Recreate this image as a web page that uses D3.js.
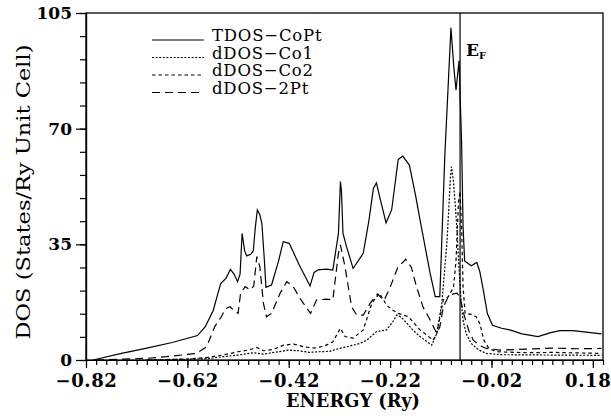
<!DOCTYPE html>
<html lang="en">
  <head>
    <meta charset="utf-8">
    <title>DOS CoPt - D3</title>
    <style>
      body { margin: 0; background: #fff; }
      text { font-family: "DejaVu Serif", serif; fill: #000; }
    </style>
  </head>
  <body>
    <div id="dataviz_area"></div>
    <script src="https://d3js.org/d3.v7.min.js"></script>
    <script>
      // values (energy in Ry, DOS in states/Ry unit cell)
      var tdosE = [-0.806, -0.75, -0.70, -0.65, -0.60, -0.585, -0.569, -0.56, -0.554, -0.544, -0.535, -0.528, -0.521, -0.516, -0.512, -0.507, -0.503, -0.495, -0.490, -0.486, -0.482, -0.477, -0.473, -0.468, -0.465, -0.454, -0.44, -0.431, -0.419, -0.40, -0.378, -0.370, -0.362, -0.345, -0.333, -0.322, -0.318, -0.316, -0.313, -0.306, -0.293, -0.273, -0.262, -0.253, -0.247, -0.240, -0.228, -0.217, -0.204, -0.195, -0.182, -0.170, -0.161, -0.141, -0.131, -0.122, -0.112, -0.100, -0.094, -0.090, -0.084, -0.079, -0.076, -0.073, -0.060, -0.049, -0.043, -0.036, -0.028, -0.018, 0.0, 0.016, 0.040, 0.072, 0.095, 0.115, 0.141, 0.197]
      var tdosV = [0, 2.0, 3.6, 5.3, 7.4, 10, 15, 20, 23.2, 24.7, 27.4, 26, 23.7, 26, 38.3, 33, 31.5, 32, 33, 40, 45.4, 44, 41.3, 30, 22, 22.7, 30, 35.8, 35.3, 29, 22.4, 26.5, 27.3, 27.5, 27.2, 38.3, 54, 51, 38.3, 34.3, 27.7, 32.3, 42, 51.9, 53.6, 49, 41.5, 45.4, 60.7, 61.7, 59.0, 50, 42.4, 26.2, 19.2, 19.2, 62, 100.5, 88, 81.7, 90.5, 66, 40, 30, 28.5, 29.5, 26.7, 21, 14, 10.5, 9.6, 9.1, 7.9, 7.1, 8.2, 8.9, 8.9, 7.9]

      var co1E = [-0.70, -0.60, -0.57, -0.55, -0.52, -0.49, -0.47, -0.44, -0.42, -0.40, -0.38, -0.36, -0.34, -0.32, -0.30, -0.28, -0.266, -0.247, -0.227, -0.215, -0.207, -0.198, -0.188, -0.175, -0.161, -0.138, -0.128, -0.118, -0.108, -0.101, -0.099, -0.095, -0.092, -0.088, -0.085, -0.080, -0.076, -0.070, -0.06, -0.045, -0.03, 0.0, 0.10, 0.197]
      var co1V = [0, 0.3, 0.6, 1.0, 1.5, 2.2, 1.8, 2.5, 3.0, 2.8, 2.3, 2.5, 2.6, 3.5, 4.2, 5, 6.0, 8.6, 9.1, 11.5, 13.6, 13, 11.3, 9, 7.1, 4.5, 8, 17.2, 35.3, 55, 58.5, 54, 48, 39.3, 30, 18, 12, 8, 5, 3, 2, 1.6, 1.5, 1.4]

      var co2E = [-0.70, -0.62, -0.58, -0.55, -0.52, -0.50, -0.483, -0.47, -0.45, -0.43, -0.41, -0.39, -0.37, -0.35, -0.333, -0.318, -0.309, -0.293, -0.273, -0.256, -0.241, -0.227, -0.217, -0.204, -0.184, -0.161, -0.135, -0.128, -0.115, -0.105, -0.095, -0.090, -0.085, -0.082, -0.079, -0.076, -0.072, -0.06, -0.05, -0.043, -0.035, -0.025, -0.01, 0.05, 0.10, 0.197]
      var co2V = [0, 0.3, 0.8, 1.5, 2.5, 3.0, 3.8, 2.8, 3.2, 4.5, 4.8, 4.0, 3.6, 4.2, 5.5, 9.6, 7.1, 6.6, 9.1, 17.2, 20.2, 16.6, 15.3, 14.1, 13.1, 9.1, 6.0, 8, 18.2, 19.2, 22, 30, 48, 51, 40, 22, 14.1, 13.8, 13, 11, 6, 3.5, 2.5, 2.2, 2.3, 2.0]

      var pt2E = [-0.80, -0.70, -0.661, -0.602, -0.582, -0.566, -0.553, -0.545, -0.536, -0.528, -0.520, -0.515, -0.506, -0.496, -0.489, -0.483, -0.477, -0.470, -0.464, -0.454, -0.437, -0.424, -0.411, -0.398, -0.377, -0.365, -0.345, -0.333, -0.322, -0.318, -0.309, -0.296, -0.286, -0.273, -0.260, -0.245, -0.232, -0.22, -0.205, -0.189, -0.178, -0.168, -0.155, -0.141, -0.128, -0.122, -0.115, -0.105, -0.095, -0.088, -0.082, -0.075, -0.065, -0.056, -0.045, -0.030, -0.003, 0.05, 0.10, 0.15, 0.197]
      var pt2V = [0, 0.5, 1.0, 2.0, 4.0, 10.1, 13.1, 15.5, 16.1, 15, 14.1, 20.2, 22.2, 21.2, 22.4, 31.3, 28.2, 17.2, 13.1, 14.1, 20.2, 23.7, 22.2, 18.7, 14.1, 18.2, 18.4, 18.2, 32.3, 34.8, 28.2, 16.1, 13.6, 13.6, 17, 20, 18, 22, 28, 30.5, 28, 22.2, 16, 12.1, 8.1, 10, 16.1, 19.2, 20, 20.2, 19, 14.1, 9, 6.0, 4.5, 3.5, 3.0, 3.3, 3.6, 3.4, 3.5]

      var seriesNames = ["TDOS\u2212CoPt", "dDOS\u2212Co1", "dDOS\u2212Co2", "dDOS\u22122Pt"]
      var xTicks = [-0.82, -0.62, -0.42, -0.22, -0.02, 0.18]
      var yTicks = [0, 35, 70, 105]
      var fermi = -0.082

      var W = 611, H = 420,
        margins = {top: 13, right: 8, bottom: 60, left: 86},
        width = W - margins.left - margins.right,
        height = H - margins.top - margins.bottom

      var svg = d3.select("#dataviz_area")
        .append("svg")
          .attr("width", W)
          .attr("height", H)
        .append("g")
          .attr("transform", "translate(" + margins.left + "," + margins.top + ")")

      var x = d3.scaleLinear().domain([-0.82, 0.20]).range([0, width])
      var y = d3.scaleLinear().domain([0, 105]).range([height, 0])

      // minor ticks
      svg.append("g")
        .attr("transform", "translate(0," + height + ")")
        .call(d3.axisBottom(x).tickValues(d3.range(52).map(function(i) { return -0.82 + i * 0.02 }))
          .tickSize(5).tickSizeOuter(0).tickFormat(""))
      svg.append("g")
        .call(d3.axisLeft(y).tickValues(d3.range(16).map(function(i) { return i * 7 }))
          .tickSize(6).tickSizeOuter(0).tickFormat(""))

      // major ticks with labels
      var xAxis = svg.append("g")
        .attr("transform", "translate(0," + height + ")")
        .call(d3.axisBottom(x).tickValues(xTicks).tickSize(8).tickPadding(6)
          .tickSizeOuter(0).tickFormat(d3.format(".2f")))
      var yAxis = svg.append("g")
        .call(d3.axisLeft(y).tickValues(yTicks).tickSize(10).tickPadding(4).tickSizeOuter(0))

      svg.selectAll(".tick line, .domain").attr("stroke", "#000").attr("stroke-width", 1.2)
      svg.selectAll(".tick text")
        .style("font-family", "DejaVu Serif")
        .style("font-weight", "bold")
        .style("font-size", "17px")
        .attr("fill", "#000")
      xAxis.selectAll(".tick text")
        .style("font-size", "18px")
        .style("letter-spacing", "0.6px")
      // last label sits against the right edge
      xAxis.selectAll(".tick text").filter(function(d) { return d === 0.18 })
        .attr("text-anchor", "end").attr("x", 18)

      // frame
      svg.append("rect")
        .attr("width", width).attr("height", height)
        .attr("fill", "none").attr("stroke", "#000").attr("stroke-width", 1.3)

      // curves
      var line = d3.line()
        .x(function(d) { return x(d[0]) })
        .y(function(d) { return y(d[1]) })

      var curves = [
        {e: tdosE, v: tdosV, dash: null},
        {e: co1E, v: co1V, dash: "2,1.6"},
        {e: co2E, v: co2V, dash: "3.5,3"},
        {e: pt2E, v: pt2V, dash: "8,5"}
      ]

      curves.forEach(function(c) {
        svg.append("path")
          .datum(c.e.map(function(e, i) { return [e, c.v[i]] }))
          .attr("d", line)
          .attr("fill", "none")
          .attr("stroke", "#000")
          .attr("stroke-width", 1.2)
          .attr("stroke-dasharray", c.dash)
      })

      // fermi level
      svg.append("line")
        .attr("x1", x(fermi)).attr("x2", x(fermi))
        .attr("y1", 0).attr("y2", height)
        .attr("stroke", "#000").attr("stroke-width", 1.2)

      var ef = svg.append("text")
        .attr("x", x(fermi) + 6).attr("y", 43)
        .style("font-weight", "bold").style("font-size", "17px")
      ef.append("tspan").text("E")
      ef.append("tspan").attr("dy", 3).style("font-size", "10px").text("F")

      // legend
      var legend = svg.append("g").attr("transform", "translate(66,27)")
      seriesNames.forEach(function(name, i) {
        legend.append("line")
          .attr("x1", 0).attr("x2", 52)
          .attr("y1", i * 17.5).attr("y2", i * 17.5)
          .attr("stroke", "#000").attr("stroke-width", 1.2)
          .attr("stroke-dasharray", curves[i].dash)
        legend.append("text")
          .attr("x", 60).attr("y", i * 17.5 + 1)
          .style("font-size", "16.5px")
          .style("letter-spacing", "0.8px")
          .text(name)
      })

      // axis titles
      svg.append("text")
        .attr("x", 267).attr("y", 407 - margins.top)
        .attr("text-anchor", "middle")
        .style("font-weight", "bold").style("font-size", "19px")
        .attr("textLength", 134).attr("lengthAdjust", "spacingAndGlyphs")
        .text("ENERGY (Ry)")

      svg.append("text")
        .attr("transform", "translate(" + (30 - margins.left) + "," + (192 - margins.top) + ") rotate(-90)")
        .attr("text-anchor", "middle")
        .style("font-size", "18px")
        .attr("textLength", 295).attr("lengthAdjust", "spacingAndGlyphs")
        .text("DOS (States/Ry Unit Cell)")
    </script>
  </body>
</html>
